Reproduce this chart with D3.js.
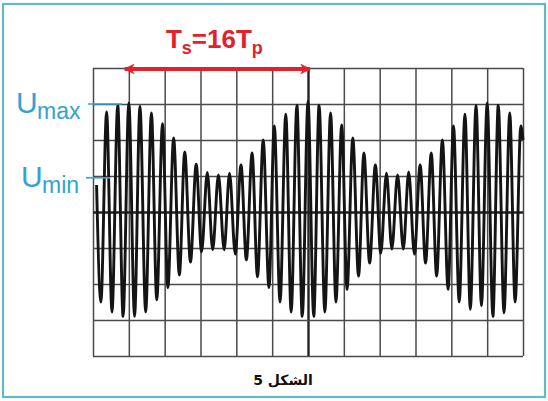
<!DOCTYPE html>
<html><head><meta charset="utf-8">
<script src="https://cdn.jsdelivr.net/npm/d3@7"></script>
<style>html,body{margin:0;padding:0;background:#fff;} svg{display:block}</style>
</head><body>
<svg id="chart" width="548" height="401"></svg>
<script>
// ---- data (oscilloscope divisions) ----
const peakT = [0.38,0.69,1.00,1.31,1.63,1.94,2.25,2.56,2.88,3.19,3.50,3.81,4.13,4.44,4.75,5.06,5.38,5.69,6.00,6.31,6.63,6.94,7.25,7.56,7.88,8.19,8.50,8.81,9.13,9.44,9.75,10.06,10.38,10.69,11.00,11.31,11.63,11.94];
const peakU = [2.78,2.97,3.03,2.94,2.75,2.45,2.06,1.67,1.33,1.10,1.03,1.08,1.31,1.64,2.00,2.39,2.72,2.97,3.08,2.97,2.75,2.42,2.06,1.64,1.31,1.08,1.03,1.11,1.31,1.64,2.00,2.39,2.72,2.97,3.03,2.97,2.75,2.39];
const troughT = [0.22,0.53,0.84,1.16,1.47,1.78,2.09,2.41,2.72,3.03,3.34,3.66,3.97,4.28,4.59,4.91,5.22,5.53,5.84,6.16,6.47,6.78,7.09,7.41,7.72,8.03,8.34,8.66,8.97,9.28,9.59,9.91,10.22,10.53,10.84,11.16,11.47,11.78];
const troughU = [-2.50,-2.78,-2.90,-2.90,-2.78,-2.44,-2.10,-1.75,-1.39,-1.11,-1.05,-1.05,-1.17,-1.33,-1.80,-2.10,-2.50,-2.78,-2.90,-2.90,-2.78,-2.50,-2.15,-1.78,-1.42,-1.15,-1.03,-1.03,-1.17,-1.42,-1.78,-2.15,-2.50,-2.70,-2.60,-2.90,-2.80,-2.50];
const traceStart = [0.10, 0.75];
const traceEnd = [12.0, 2.0];
const xDivs = [0,1,2,3,4,5,6,7,8,9,10,11,12];
const yDivs = [-4,-3,-2,-1,0,1,2,3,4];
const levelValues = [3.0, 0.95];
const levelSubs = ["max", "min"];
const periodSpan = [1, 6];
const periodText = ["T", "s", "=16T", "p"];
const caption = "الشكل 5";

// ---- layout ----
const svg = d3.select("#chart");
const x = d3.scaleLinear().domain([0, 12]).range([93, 523]);
const y = d3.scaleLinear().domain([-4, 4]).range([356, 68]);
const blue = "#34a3cf", red = "#e1222b";

// outer frame
svg.append("rect").attr("x", 3).attr("y", 4).attr("width", 542).attr("height", 393)
  .attr("fill", "#fff").attr("stroke", "#62b9cc").attr("stroke-width", 2.2);

// grid via axes
const gx = svg.append("g").attr("transform", `translate(0,${y(-4)})`)
  .call(d3.axisBottom(x).tickValues(xDivs).tickSize(-(y(-4) - y(4))).tickFormat(""));
const gy = svg.append("g").attr("transform", `translate(${x(0)},0)`)
  .call(d3.axisLeft(y).tickValues(yDivs).tickSize(-(x(12) - x(0))).tickFormat(""));
[gx, gy].forEach(g => {
  g.select(".domain").remove();
  g.selectAll(".tick line").attr("stroke", "#4a4a4a").attr("stroke-width", 1.5);
});
gx.selectAll(".tick line").filter(d => d === 6).attr("stroke-width", 2.4).attr("stroke", "#222");
gy.selectAll(".tick line").filter(d => d === 0).attr("stroke-width", 2.4).attr("stroke", "#222");

// waveform
const pts = [traceStart];
peakT.forEach((t, i) => pts.push([t, peakU[i]]));
troughT.forEach((t, i) => pts.push([t, troughU[i]]));
pts.push(traceEnd);
pts.sort((a, b) => a[0] - b[0]);
svg.append("path").datum(pts)
  .attr("fill", "none").attr("stroke", "#141414").attr("stroke-width", 2.9)
  .attr("stroke-linejoin", "round")
  .attr("d", d3.line().x(d => x(d[0])).y(d => y(d[1])).curve(d3.curveMonotoneX));

// Umax / Umin labels
const lblX = [16, 21], subX = [37, 42], lineX = [[88, 122], [86, 110]];
levelValues.forEach((v, i) => {
  const yy = y(v);
  svg.append("line").attr("x1", lineX[i][0]).attr("x2", lineX[i][1])
    .attr("y1", yy).attr("y2", yy).attr("stroke", blue).attr("stroke-width", 1.6);
  const t = svg.append("text").attr("x", lblX[i]).attr("y", yy + 9)
    .attr("fill", blue).attr("font-family", "Liberation Sans, Arial, sans-serif");
  t.append("tspan").attr("font-size", 30).text("U");
  t.append("tspan").attr("x", subX[i]).attr("dy", 6).attr("font-size", 23).text(levelSubs[i]);
});

// period arrow
const defs = svg.append("defs");
defs.append("marker").attr("id", "ah").attr("viewBox", "0 0 10 10")
  .attr("refX", 9).attr("refY", 5).attr("markerWidth", 11).attr("markerHeight", 11)
  .attr("markerUnits", "userSpaceOnUse").attr("orient", "auto-start-reverse")
  .append("path").attr("d", "M0,0 L10,5 L0,10 L3,5 z").attr("fill", red);
svg.append("line").attr("x1", x(periodSpan[0]) - 4).attr("x2", x(periodSpan[1]) + 2)
  .attr("y1", 69).attr("y2", 69).attr("stroke", red).attr("stroke-width", 4)
  .attr("marker-start", "url(#ah)").attr("marker-end", "url(#ah)");
const pt = svg.append("text").attr("x", (x(periodSpan[0]) + x(periodSpan[1])) / 2 - 4).attr("y", 48)
  .attr("text-anchor", "middle").attr("fill", red).attr("font-weight", "bold")
  .attr("font-family", "Liberation Sans, Arial, sans-serif").attr("font-size", 26);
pt.append("tspan").text(periodText[0]);
pt.append("tspan").attr("dy", 6).attr("font-size", 18).text(periodText[1]);
pt.append("tspan").attr("dy", -6).text(periodText[2]);
pt.append("tspan").attr("dy", 6).attr("font-size", 18).text(periodText[3]);

// caption
svg.append("text").attr("x", 283).attr("y", 385).attr("text-anchor", "middle")
  .attr("direction", "rtl").attr("font-family", "DejaVu Sans, sans-serif")
  .attr("font-weight", "bold").attr("font-size", 14).attr("fill", "#111").text(caption);
</script>
</body></html>
